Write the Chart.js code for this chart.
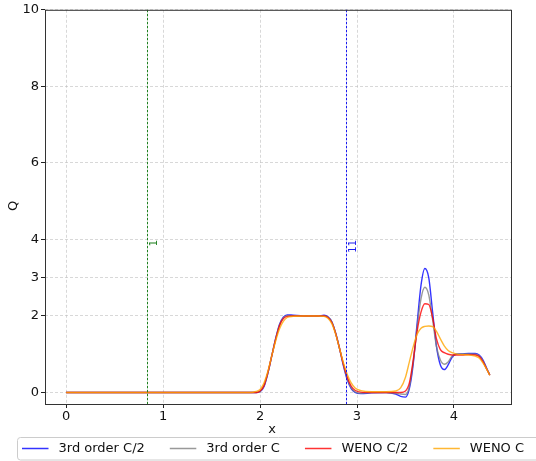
<!DOCTYPE html>
<html>
<head>
<meta charset="utf-8">
<script src="https://cdn.jsdelivr.net/npm/chart.js@4.4.0/dist/chart.umd.min.js"></script>
<style>
html, body { margin: 0; padding: 0; background: #fff; }
</style>
</head>
<body>
<canvas id="qChart" width="536" height="461"></canvas>
<script>
// sample positions along x (shared by all four runs)
var xs = [0, 1.0, 1.9, 1.96, 2.0, 2.04, 2.08, 2.12, 2.16, 2.2,
          2.24, 2.28, 2.34, 2.45, 2.6, 2.66, 2.7, 2.74, 2.78, 2.82,
          2.86, 2.9, 2.94, 2.98, 3.04, 3.15, 3.3, 3.4, 3.45, 3.5,
          3.54, 3.58, 3.62, 3.66, 3.7, 3.74, 3.78, 3.82, 3.86, 3.9,
          3.94, 3.98, 4.02, 4.08, 4.15, 4.22, 4.26, 4.3, 4.34, 4.37]

// 3rd order C/2
var thirdHalf = [0, 0, 0, 0, 0.02, 0.15, 0.5, 0.95, 1.4, 1.78,
                 1.97, 2.03, 2.02, 2.0, 2.0, 2.02, 1.98, 1.85, 1.55, 1.15,
                 0.7, 0.33, 0.1, 0.0, -0.03, -0.01, 0.0, -0.04, -0.1, -0.12,
                 0.1, 0.75, 1.8, 2.8, 3.24, 3.0, 2.1, 1.2, 0.72, 0.6,
                 0.72, 0.92, 1.0, 1.01, 1.02, 1.02, 0.98, 0.85, 0.62, 0.46]
// 3rd order C
var thirdFull = [0, 0, 0, 0, 0.03, 0.17, 0.5, 0.95, 1.4, 1.76,
                 1.95, 2.01, 2.01, 2.0, 2.0, 2.0, 1.97, 1.85, 1.55, 1.15,
                 0.72, 0.36, 0.13, 0.02, -0.02, 0.0, 0.0, -0.02, -0.04, -0.05,
                 0.15, 0.8, 1.7, 2.45, 2.75, 2.55, 1.9, 1.2, 0.85, 0.74,
                 0.8, 0.95, 1.0, 1.01, 1.01, 1.0, 0.96, 0.82, 0.6, 0.46]
// WENO C/2
var wenoHalf = [0, 0, 0, 0, 0.04, 0.18, 0.52, 0.95, 1.38, 1.74,
                1.93, 1.99, 2.0, 2.0, 2.0, 2.0, 1.96, 1.83, 1.54, 1.15,
                0.74, 0.4, 0.17, 0.06, 0.01, 0.0, 0.0, 0.0, 0.0, 0.04,
                0.25, 0.85, 1.6, 2.1, 2.32, 2.3, 1.95, 1.4, 1.12, 1.04,
                1.0, 0.98, 0.98, 0.98, 0.99, 0.98, 0.94, 0.8, 0.6, 0.45]
// WENO C
var wenoFull = [0, 0, 0, 0.03, 0.08, 0.25, 0.55, 0.95, 1.34, 1.66,
                1.86, 1.96, 1.99, 2.0, 2.0, 1.99, 1.94, 1.8, 1.52, 1.15,
                0.78, 0.47, 0.25, 0.12, 0.05, 0.02, 0.02, 0.04, 0.12, 0.4,
                0.8, 1.2, 1.52, 1.68, 1.73, 1.74, 1.72, 1.6, 1.4, 1.22,
                1.1, 1.04, 1.01, 0.99, 0.98, 0.95, 0.9, 0.77, 0.6, 0.45]

var seriesNames = ['3rd order C/2', '3rd order C', 'WENO C/2', 'WENO C']
var seriesColors = ['rgba(0,0,255,0.8)', 'rgba(128,128,128,0.8)', 'rgba(255,0,0,0.8)', 'rgba(255,165,0,0.8)']

var xTicks = [0, 1, 2, 3, 4]
var yTicks = [0, 2, 3, 4, 6, 8, 10]

// vertical markers
var markerX = [0.835, 2.887]
var markerText = ['1', '11']
var markerColors = ['#1f801f', '#1a1aee']

var FONT = '"DejaVu Sans", sans-serif'

function toPoints(ys) {
    return xs.map(function(x, i) { return {x: x, y: ys[i]} })
}

var allSeries = [thirdHalf, thirdFull, wenoHalf, wenoFull]
var datasets = []
for (var i = 0; i < allSeries.length; i++) {
    datasets.push({
        label: seriesNames[i],
        data: toPoints(allSeries[i]),
        borderColor: seriesColors[i],
        borderWidth: 1.4,
        pointRadius: 0,
        fill: false,
        cubicInterpolationMode: 'monotone',
        order: allSeries.length - i   // later series on top, like matplotlib
    })
}

var decorPlugin = {
    id: 'decor',
    afterDatasetsDraw: function(chart) {
        var ctx = chart.ctx
        var area = chart.chartArea
        var xScale = chart.scales.x
        ctx.save()
        for (var i = 0; i < markerX.length; i++) {
            var px = Math.round(xScale.getPixelForValue(markerX[i])) + 0.5
            ctx.strokeStyle = markerColors[i]
            ctx.lineWidth = 1
            ctx.setLineDash([2.5, 1.5])
            ctx.beginPath()
            ctx.moveTo(px, area.top)
            ctx.lineTo(px, area.bottom)
            ctx.stroke()
            ctx.setLineDash([])
            // rotated label beside the line
            ctx.save()
            ctx.translate(px + 9, 240)
            ctx.rotate(-Math.PI / 2)
            ctx.font = '10px ' + FONT
            ctx.fillStyle = markerColors[i]
            ctx.textAlign = 'right'
            ctx.textBaseline = 'alphabetic'
            ctx.fillText(markerText[i], 0, 0)
            ctx.restore()
        }
        // frame
        ctx.strokeStyle = '#333'
        ctx.lineWidth = 1
        ctx.strokeRect(area.left + 0.5, area.top + 0.5, area.right - area.left, area.bottom - area.top)
        ctx.restore()
    },
    afterDraw: function(chart) {
        var ctx = chart.ctx
        ctx.save()
        ctx.fillStyle = '#111'
        ctx.font = '13px ' + FONT
        ctx.textAlign = 'center'
        ctx.textBaseline = 'middle'
        ctx.fillText('x', 272, 430)
        ctx.save()
        ctx.translate(14, 206)
        ctx.rotate(-Math.PI / 2)
        ctx.fillText('Q', 0, 0)
        ctx.restore()

        // legend box
        ctx.strokeStyle = '#cccccc'
        ctx.lineWidth = 1
        ctx.fillStyle = 'rgba(255,255,255,0.8)'
        ctx.beginPath()
        ctx.roundRect(17.5, 437.5, 540, 22.5, 3)
        ctx.fill()
        ctx.stroke()
        var lx = 22
        var ly = 448.5
        ctx.textAlign = 'left'
        for (var i = 0; i < seriesNames.length; i++) {
            ctx.strokeStyle = seriesColors[i]
            ctx.lineWidth = 1.5
            ctx.beginPath()
            ctx.moveTo(lx, ly)
            ctx.lineTo(lx + 26.5, ly)
            ctx.stroke()
            ctx.fillStyle = '#111'
            ctx.fillText(seriesNames[i], lx + 36.5, ly)
            lx += 36.5 + ctx.measureText(seriesNames[i]).width + 25
        }
        ctx.restore()
    }
}

var gridOpts = {
    color: 'rgba(190,190,190,0.75)',
    lineWidth: 0.8,
    tickLength: 4,
    tickColor: '#222',
    tickWidth: 1
}

var config = {
    type: 'line',
    data: { datasets: datasets },
    options: {
        responsive: false,
        animation: false,
        devicePixelRatio: 1,
        layout: { padding: { top: 9, right: 25, left: 0, bottom: 0 } },
        plugins: {
            legend: { display: false },
            tooltip: { enabled: false }
        },
        scales: {
            x: {
                type: 'linear',
                min: -0.2185,
                max: 4.5885,
                afterBuildTicks: function(scale) {
                    scale.ticks = xTicks.map(function(v) { return {value: v} })
                },
                afterFit: function(scale) { scale.height = 57 },
                grid: gridOpts,
                border: { display: false, dash: [3, 2] },
                ticks: { font: { family: FONT, size: 13 }, color: '#111', padding: 1, maxRotation: 0 }
            },
            y: {
                type: 'linear',
                min: -0.3,
                max: 10,
                afterBuildTicks: function(scale) {
                    scale.ticks = yTicks.map(function(v) { return {value: v} })
                },
                afterFit: function(scale) { scale.width = 45 },
                grid: gridOpts,
                border: { display: false, dash: [3, 2] },
                ticks: { font: { family: FONT, size: 13 }, color: '#111', padding: 2 }
            }
        }
    },
    plugins: [decorPlugin]
}

var qChart = new Chart(document.getElementById('qChart'), config)
</script>
</body>
</html>
